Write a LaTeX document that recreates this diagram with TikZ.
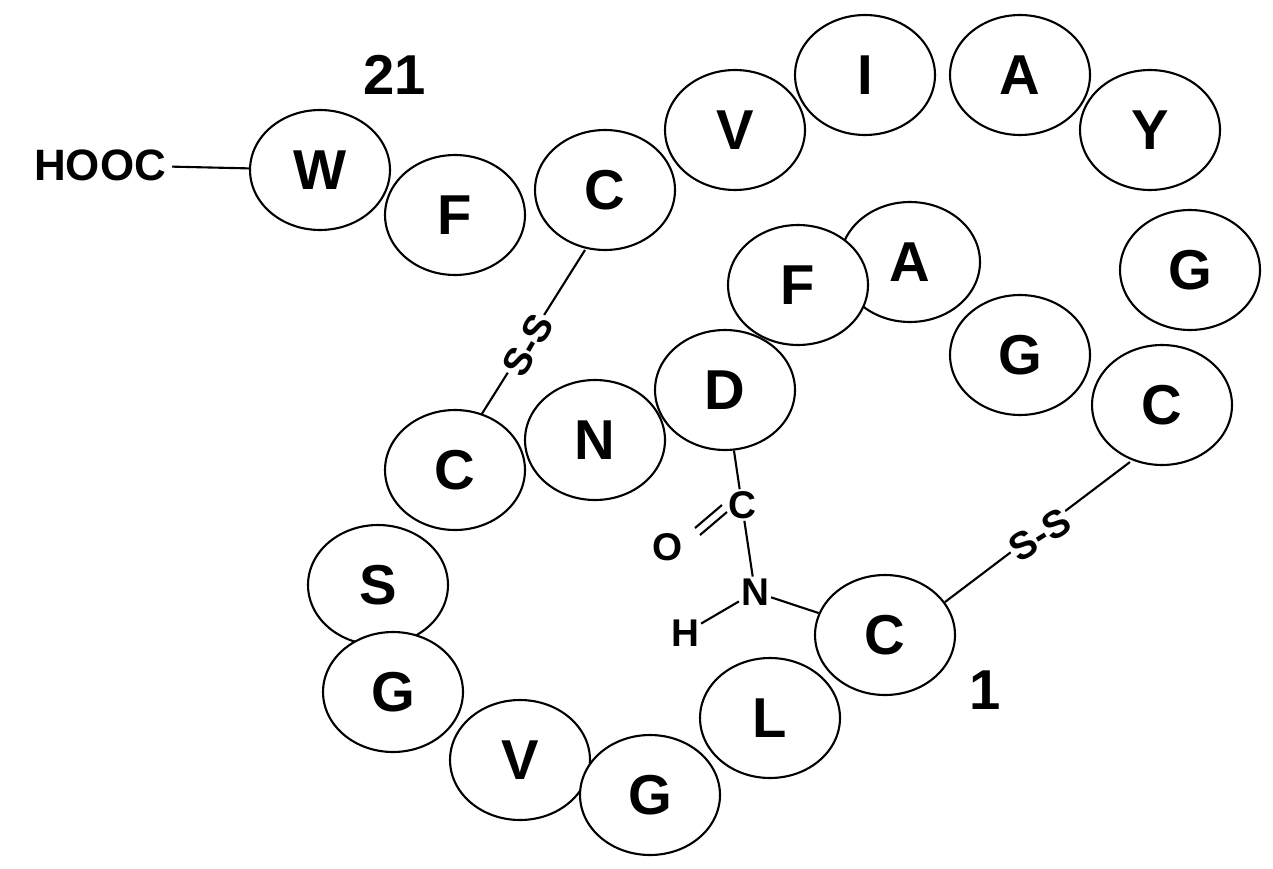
\documentclass[tikz,border=0pt]{standalone}
\usepackage{fontspec}
\setmainfont{Liberation Sans}
\usetikzlibrary{shapes.geometric}
\begin{document}
\begin{tikzpicture}[x=0.02cm,y=-0.02cm,
  aa/.style={ellipse,draw,line width=1.2pt,fill=white,minimum width=140\dimexpr0.02cm\relax*0+2.8cm,minimum height=2.4cm,inner sep=0pt,font=\fontsize{32}{32}\selectfont\bfseries},
  sm/.style={font=\fontsize{22}{22}\selectfont\bfseries,inner sep=1pt},
  ln/.style={line width=1.2pt}]
\useasboundingbox (0,0) rectangle (1273,868);
\node[font=\fontsize{25}{25}\selectfont\bfseries] (hooc) at (100,165) {HOOC};
\node[font=\fontsize{32}{32}\selectfont\bfseries] (n21) at (395,75) {21};
\node[font=\fontsize{32}{32}\selectfont\bfseries] (n1) at (985,690) {1};
% disulfide and amide connectors first
\coordinate (ss1a) at (585,250); \coordinate (ss1b) at (478,420);
\coordinate (ss2a) at (1130,462); \coordinate (ss2b) at (945,602);
\draw[ln] (ss1a) -- (ss1b);
\draw[ln] (ss2a) -- (ss2b);
\node[sm,fill=white,rotate=60] (ssA) at (528,345) {S-S};
\node[sm,fill=white,rotate=32] (ssB) at (1040,535) {S-S};
\node[sm] (cc) at (742,505) {C};
\node[sm] (oo) at (668,547) {O};
\node[sm] (nn) at (755,592) {N};
\node[sm] (hh) at (685,633) {H};
\draw[ln] (700,535) -- (727,512);
\draw[ln] (695,528) -- (722,505);
\draw[ln] (cc) -- (nn);
\draw[ln] (nn) -- (hh);
\foreach \n/\l/\x/\y in {W/W/320/170, F1/F/455/215, C1/C/605/190, V1/V/735/130, I/I/865/75, A1/A/1020/75, Y/Y/1150/130, G1/G/1190/270, C2/C/1162/405, G2/G/1020/355, A2/A/910/262, F2/F/798/285, D/D/725/390, N/N/595/440, C3/C/455/470, S/S/378/585, G3/G/393/692, V2/V/520/760, G4/G/650/795, L/L/770/718, C4/C/885/635}
  \node[aa] (\n) at (\x,\y) {\l};
\draw[ln] (hooc) -- (W);
\draw[ln] (D) -- (cc);
\draw[ln] (nn) -- (C4);
\end{tikzpicture}
\end{document}
